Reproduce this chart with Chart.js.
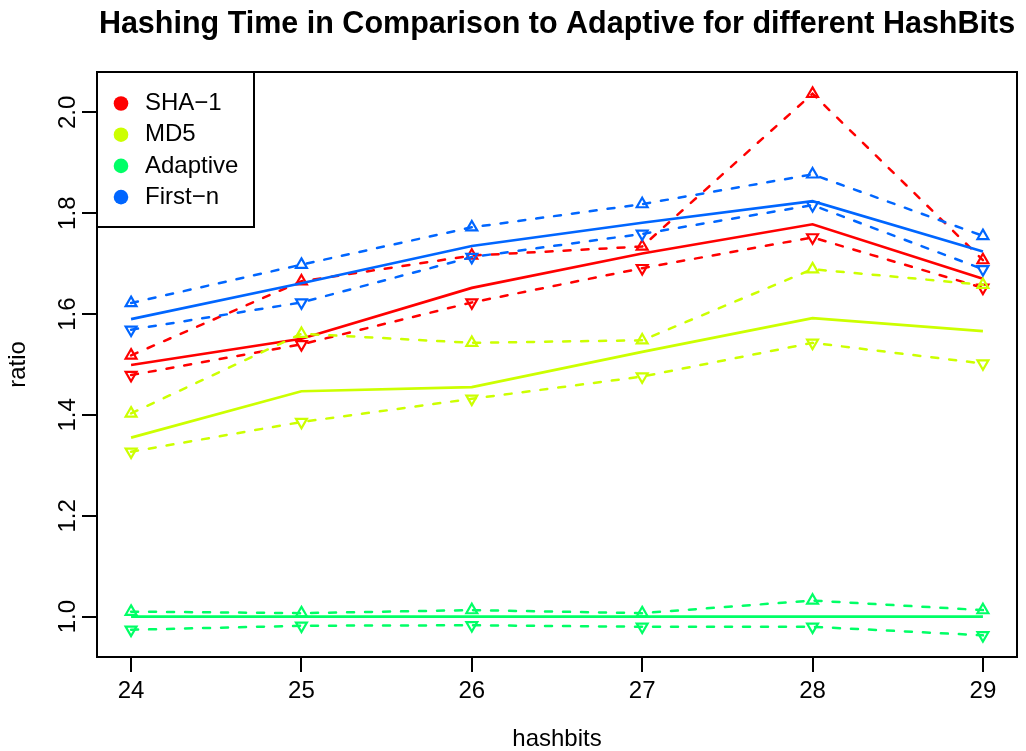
<!DOCTYPE html>
<html>
<head>
<meta charset="utf-8">
<script src="https://cdn.jsdelivr.net/npm/chart.js@4/dist/chart.umd.min.js"></script>
<style>
  html, body { margin: 0; padding: 0; background: #fff; }
  canvas { display: block; }
</style>
</head>
<body>
<canvas id="c" width="1026" height="751"></canvas>
<script>
// ---- data ----
const hashbits = [24, 25, 26, 27, 28, 29];
const xTicks = [24, 25, 26, 27, 28, 29];
const yTicks = [1.0, 1.2, 1.4, 1.6, 1.8, 2.0];
const yTickLabels = ['1.0', '1.2', '1.4', '1.6', '1.8', '2.0'];

const seriesNames = ['SHA\u22121', 'MD5', 'Adaptive', 'First\u2212n'];
const seriesColors = ['#FF0000', '#CCFF00', '#00FF66', '#0066FF'];

const sha1Mean  = [1.499, 1.551, 1.652, 1.720, 1.778, 1.670];
const sha1Upper = [1.518, 1.665, 1.716, 1.734, 2.037, 1.707];
const sha1Lower = [1.479, 1.540, 1.623, 1.691, 1.752, 1.652];

const md5Mean  = [1.355, 1.447, 1.455, 1.525, 1.592, 1.566];
const md5Upper = [1.403, 1.561, 1.543, 1.548, 1.689, 1.658];
const md5Lower = [1.327, 1.386, 1.432, 1.476, 1.543, 1.502];

const adaptiveMean  = [1.000, 1.000, 1.000, 1.000, 1.000, 1.000];
const adaptiveUpper = [1.010, 1.007, 1.013, 1.007, 1.032, 1.013];
const adaptiveLower = [0.974, 0.982, 0.983, 0.980, 0.980, 0.963];

const firstnMean  = [1.590, 1.661, 1.735, 1.781, 1.824, 1.724];
const firstnUpper = [1.622, 1.698, 1.772, 1.818, 1.877, 1.755];
const firstnLower = [1.569, 1.623, 1.713, 1.759, 1.816, 1.689];

const titleText = 'Hashing Time in Comparison to Adaptive for different HashBits';
const xLabel = 'hashbits';
const yLabel = 'ratio';

// ---- build ----
const FAMILY = '"Liberation Sans", Arial, Helvetica, sans-serif';
const groups = [
  [sha1Mean, sha1Upper, sha1Lower],
  [md5Mean, md5Upper, md5Lower],
  [adaptiveMean, adaptiveUpper, adaptiveLower],
  [firstnMean, firstnUpper, firstnLower]
];
const toPts = arr => arr.map((v, i) => ({x: hashbits[i], y: v}));

const datasets = [];
groups.forEach((g, si) => {
  const col = seriesColors[si];
  datasets.push({
    label: seriesNames[si], data: toPts(g[0]),
    borderColor: col, borderWidth: 2.7, pointRadius: 0, tension: 0
  });
  [1, 2].forEach(k => {
    datasets.push({
      label: seriesNames[si] + (k === 1 ? ' upper' : ' lower'), data: toPts(g[k]),
      borderColor: col, borderWidth: 2.5, borderDash: [7, 11], borderCapStyle: 'round',
      tension: 0,
      pointStyle: 'triangle', pointRadius: 6.3, pointBorderWidth: 2.2,
      pointBorderColor: col, pointBackgroundColor: 'rgba(0,0,0,0)',
      pointRotation: k === 1 ? 0 : 180, pointHoverRadius: 6.3
    });
  });
});
datasets.forEach((d, i) => { d.order = 100 - i; });

const allVals = groups.flat(2);
const yMinD = Math.min(...allVals), yMaxD = Math.max(...allVals);
const yPad = (yMaxD - yMinD) * 0.04;
const xMinD = Math.min(...hashbits), xMaxD = Math.max(...hashbits);
const xPad = (xMaxD - xMinD) * 0.04;

const boxPlugin = {
  id: 'rbox',
  afterDraw(chart) {
    const {ctx, chartArea: a} = chart;
    ctx.save();
    ctx.lineWidth = 2;
    ctx.strokeStyle = '#000';
    ctx.strokeRect(a.left, a.top, a.right - a.left, a.bottom - a.top);
    // legend
    const x0 = a.left, y0 = a.top, w = 157, h = 155;
    ctx.strokeRect(x0, y0, w, h);
    ctx.font = '24px ' + FAMILY;
    ctx.textBaseline = 'middle';
    ctx.textAlign = 'left';
    seriesNames.forEach((name, i) => {
      const cy = y0 + 31.5 + i * 31.2;
      ctx.beginPath();
      ctx.arc(x0 + 24, cy, 7.3, 0, Math.PI * 2);
      ctx.fillStyle = seriesColors[i];
      ctx.fill();
      ctx.fillStyle = '#000';
      ctx.fillText(name, x0 + 48, cy);
    });
    ctx.restore();
  }
};

new Chart(document.getElementById('c'), {
  type: 'line',
  data: { datasets },
  plugins: [boxPlugin],
  options: {
    responsive: false,
    animation: false,
    devicePixelRatio: 1,
    events: [],
    layout: { padding: { left: 0, right: 9, top: 0, bottom: 0 } },
    plugins: {
      legend: { display: false },
      tooltip: { enabled: false },
      title: {
        display: true, text: titleText, fullSize: false, color: '#000',
        font: { family: FAMILY, size: 30.5, weight: 'bold', lineHeight: 1.2 },
        padding: { top: 6.2, bottom: 29.2 }
      }
    },
    scales: {
      x: {
        type: 'linear', min: xMinD - xPad, max: xMaxD + xPad,
        afterBuildTicks: s => { s.ticks = xTicks.map(v => ({value: v})); },
        afterFit: s => { s.height = 94; },
        grid: { drawOnChartArea: false, drawTicks: true, tickLength: 15, color: '#000', lineWidth: 2 },
        border: { display: false },
        ticks: { color: '#000', font: { family: FAMILY, size: 24 }, padding: 5, maxRotation: 0, autoSkip: false,
                 callback: (v) => String(v) },
        title: { display: true, text: xLabel, color: '#000', font: { family: FAMILY, size: 24, lineHeight: 1 },
                 padding: { top: 0, bottom: 0 } }
      },
      y: {
        type: 'linear', min: yMinD - yPad, max: yMaxD + yPad,
        afterBuildTicks: s => { s.ticks = yTicks.map(v => ({value: v})); },
        afterFit: s => { s.width = 97; },
        grid: { drawOnChartArea: false, drawTicks: true, tickLength: 15, color: '#000', lineWidth: 2 },
        border: { display: false },
        ticks: { color: '#000', font: { family: FAMILY, size: 24 }, padding: -3, minRotation: 90, maxRotation: 90,
                 crossAlign: 'center', autoSkip: false,
                 callback: (v, i) => yTickLabels[i] },
        title: { display: true, text: yLabel, color: '#000', font: { family: FAMILY, size: 24, lineHeight: 1 },
                 padding: { top: 6, bottom: 0 } }
      }
    }
  }
});
</script>
</body>
</html>
